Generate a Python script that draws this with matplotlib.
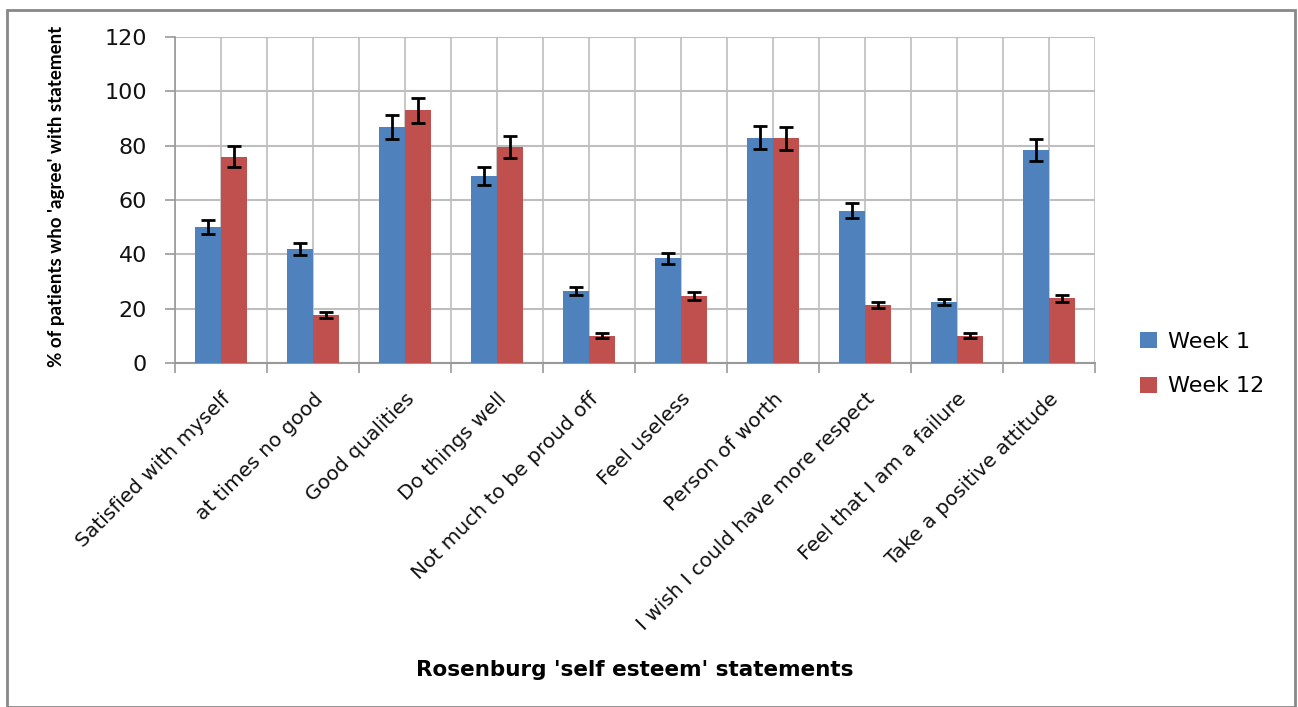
import numpy as np
import matplotlib.pyplot as plt
from matplotlib.patches import Rectangle

categories = ["Satisfied with myself", "at times no good", "Good qualities",
              "Do things well", "Not much to be proud off", "Feel useless",
              "Person of worth", "I wish I could have more respect",
              "Feel that I am a failure", "Take a positive attitude"]
week1 = [50, 42, 87, 69, 26.5, 38.5, 83, 56, 22.5, 78.5]
week1_err = [2.5, 2.2, 4.4, 3.3, 1.4, 2.1, 4.2, 2.8, 1.1, 4.0]
week12 = [76, 17.7, 93, 79.5, 10.1, 24.7, 82.7, 21.3, 10.1, 23.8]
week12_err = [3.7, 1.0, 4.6, 4.0, 0.8, 1.5, 4.2, 1.2, 0.8, 1.3]

blue = "#4F81BD"
red = "#C0504D"
grid_col = "#BEBEBE"

fig = plt.figure(figsize=(12.98, 7.07), dpi=100)
ax = fig.add_axes([175 / 1298, 1 - 363 / 707, 920 / 1298, 326 / 707])

x = np.arange(len(categories))
w = 0.28
err_kw = dict(ecolor="black", elinewidth=2, capsize=5, capthick=2)
ax.bar(x - w / 2, week1, w, yerr=week1_err, color=blue, label="Week 1",
       error_kw=err_kw, zorder=3)
ax.bar(x + w / 2, week12, w, yerr=week12_err, color=red, label="Week 12",
       error_kw=err_kw, zorder=3)

ax.set_xlim(-0.5, len(categories) - 0.5)
ax.set_ylim(0, 120)
ax.set_yticks(np.arange(0, 121, 20))

# ticks at category boundaries, labels at centres
ax.set_xticks(np.arange(-0.5, len(categories), 1.0))
ax.set_xticklabels([])
ax.set_xticks(x, minor=True)
ax.set_xticklabels(categories, minor=True, rotation=45, ha="right",
                   rotation_mode="anchor", fontsize=14.5, color="#111111")
ax.tick_params(axis="x", which="minor", length=0, pad=19)
ax.tick_params(axis="x", which="major", length=7, color="#999999", width=1.2)
ax.tick_params(axis="y", length=7, color="#999999", width=1.2, labelsize=16,
               pad=13, labelcolor="#111111")

ax.grid(True, which="both", axis="x", color=grid_col, lw=1.2, zorder=0)
ax.grid(True, which="major", axis="y", color=grid_col, lw=1.5, zorder=0)
for s in ["top", "right"]:
    ax.spines[s].set_visible(False)
ax.spines["left"].set_color("#999999")
ax.spines["bottom"].set_color("#999999")
ax.spines["left"].set_linewidth(1.2)
ax.spines["bottom"].set_linewidth(1.5)

ax.set_ylabel("% of patients who 'agree' with statement", fontsize=13.5,
              fontweight="bold", family=["Lato", "DejaVu Sans"])
ax.yaxis.set_label_coords((65 - 175) / 920, 0.51)
fig.text(635 / 1298, 1 - 670 / 707, "Rosenburg 'self esteem' statements",
         ha="center", va="center", fontsize=15.5, fontweight="bold")

ax.legend(loc="upper left", bbox_to_anchor=(1120 / 1298, 1 - 312 / 707),
          bbox_transform=fig.transFigure, frameon=False, fontsize=16,
          handlelength=0.75, handleheight=0.75, labelspacing=1.1,
          handletextpad=0.5)

fig.patches.append(Rectangle((7 / 1298, 0), 1288 / 1298, 1 - 10 / 707,
                             transform=fig.transFigure, fill=False,
                             edgecolor="#888888", lw=2))

fig.savefig("out.png", dpi=100)
